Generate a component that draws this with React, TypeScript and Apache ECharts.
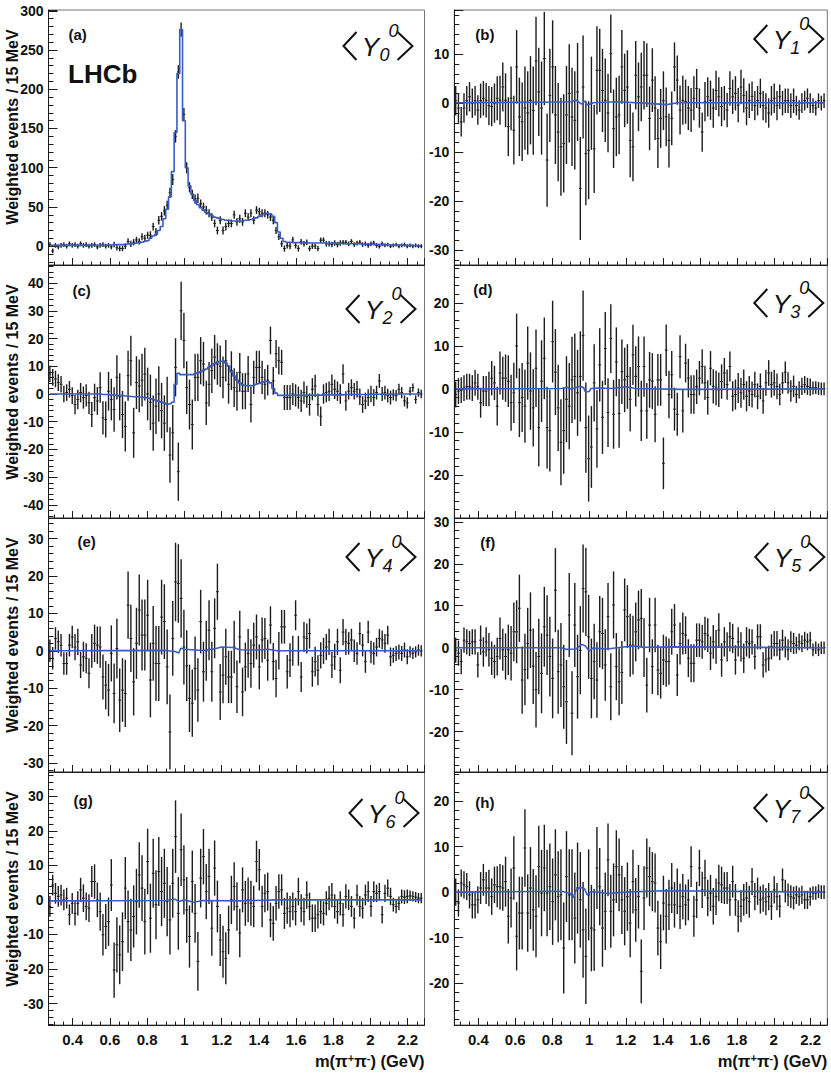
import React, { useEffect, useRef } from "react";
import * as echarts from "echarts";

// ---------- binning (15 MeV bins) ----------
const NBINS = 134;
const massCenters: number[] = Array.from({ length: NBINS }, (_, i) => Math.round((0.2775 + 0.015 * i) * 10000) / 10000);
const massMin = 0.27;
const massMax = 2.29;

// ---------- panel labels ----------
const panelLetters = ["(a)", "(b)", "(c)", "(d)", "(e)", "(f)", "(g)", "(h)"];
const momentL = ["0", "1", "2", "3", "4", "5", "6", "7"];
const yAxisTitle = "Weighted events / 15 MeV";

// ---------- y ranges ----------
const yMinValues = [-24, -33, -44.7, -30, -32.4, -29.6, -36.2, -29.2];
const yMaxValues = [301, 19, 46.5, 28.8, 35.5, 30.9, 37, 26.4];
const ySplitNumbers = [6, 5, 9, 5, 5, 5, 7, 5];

// ---------- data: <Y_0^0> ----------
const valsA = [
  2, -6, 1, -1, 1, 2, 0, 3, 1, 2,
  0, 3, 1, 2, 0, 1, 2, -1, 1, 2,
  0, 1, -1, 2, -2, -3, -3, 0, 6, 3,
  5, 8, 6, 12, 10, 14, 14, 25, 18, 33,
  38, 45, 52, 68, 85, 140, 222, 276, 168, 100,
  75, 66, 60, 61, 54, 50, 46, 42, 37, 29,
  20, 33, 20, 25, 29, 29, 40, 31, 35, 31,
  42, 37, 42, 33, 46, 44, 42, 42, 40, 37,
  33, 20, 12, 3, -3, 1, 0, 8, 1, -3,
  5.5, 3, 5, -3, 0, 0, -3, 7.7, 7.7, 3,
  3, 2, 4, 2, 4, 5, 5, 3, 6, 2,
  4, 5, 2, 3, 1, 3, 4, 1, 0, 3,
  1, 2, 0, 1, 2, 0, 1, 2, 0, 1,
  0, 1, 0, 0,
];
const errA = [
  3, 3, 3, 3, 3, 3, 3, 3, 3, 3,
  3, 3, 3, 3, 3, 3, 3, 3, 3, 3,
  3, 3, 3, 3.5, 3.5, 3.5, 3.5, 3.5, 4, 4,
  4, 4, 4, 4.5, 4.5, 4.5, 5, 5, 5, 5.5,
  5.5, 6, 6, 6.5, 7, 8, 8.5, 9, 8, 7,
  6.5, 6, 6, 6, 5.5, 5.5, 5.5, 5, 5, 5,
  5, 5, 5, 5, 5, 5, 5, 5, 5, 5,
  5, 5, 5, 5, 5, 5, 5, 5, 5, 5,
  5, 4.5, 4, 4, 4, 4, 4, 4, 4, 4,
  3.5, 3.5, 3.5, 3.5, 3.5, 3.5, 3.5, 3.5, 3.5, 3.5,
  3.5, 3.5, 3.5, 3.5, 3.5, 3, 3, 3, 3, 3,
  3, 3, 3, 3, 3, 3, 3, 3, 3, 3,
  2.5, 2.5, 2.5, 2.5, 2.5, 2.5, 2.5, 2.5, 2.5, 2.5,
  2.5, 2.5, 2.5, 2.5,
];
const fitA = [
  1, 1, 1, 1, 1, 1, 1, 1, 1, 1,
  1, 1, 1, 1, 1, 1, 1, 1, 1, 1.5,
  1.5, 1.5, 1.5, 2, 2, 2, 2, 2.5, 3, 3,
  3.5, 4, 4.5, 5, 6, 7, 10, 13, 15, 20,
  25, 35, 47, 63, 95, 145, 220, 276, 160, 100,
  77, 66, 58, 53, 49, 46, 43, 41, 39, 37,
  36, 35, 34, 33, 33, 32, 32, 32, 32, 32,
  33, 33, 34, 35, 36, 38, 40, 41, 42, 41,
  38, 30, 18, 10, 6, 5, 5, 4.5, 4.5, 4.5,
  4, 4, 4, 4, 4, 4, 4, 4, 4, 3.5,
  3.5, 3.5, 3.5, 3.5, 3.5, 3, 3, 3, 3, 3,
  3, 3, 2.5, 2.5, 2.5, 2.5, 2.5, 2, 2, 2,
  2, 2, 1.5, 1.5, 1.5, 1.5, 1, 1, 1, 1,
  0.5, 0.5, 0.5, 0.5,
];

// ---------- data: higher moments ----------
const valsB = [
  0.5, -1, -3.8, -1, 0.5, 1.3, 0, 0.5, -1.4, 0.5,
  1, 0.6, -0.5, -0.7, 0, 1, 0.6, 3.3, 0.6, -4.8,
  1, -5.5, 7.4, -2.8, -3.8, -1, -2, 0.6, -1.5, 8.6,
  2.3, -1, 9.1, -11.6, 1.6, 7.4, -2.4, -5.9, -8.9, -8.2,
  -2.4, 2, -2.8, -3.5, 2.3, -17.4, 3.3, -10.3, -9.6, 0,
  -9.3, 6.7, 6.7, 2.6, 0.6, -2, 10.1, -5.2, -2.8, -2.4,
  7.4, 2.6, 3.3, -7.6, -8.9, 5.7, 1.3, 3.3, 5.7, 5.7,
  -3.1, 4.7, -1, -7.2, -3.1, 0.5, -2.8, -7.6, -3.1, 7.4,
  4.7, -1.4, 0.6, 0.3, -1, -1.4, 1, 3, -1, -5.9,
  0.3, 1.3, 0.6, -1, 2.6, 1.3, -0.7, 0, -1.4, 3,
  1.3, 2, -0.4, 3.3, 1.6, -1, 0.5, 1.4, -0.5, 0.5,
  2, -0.5, -1, -2, 0.5, 1, -0.5, 1.3, 0, 0.5,
  0.5, -0.5, 0.5, -0.5, -1.4, 0, 0.5, 1, 0, -0.5,
  -1, 0.5, 0, 0.5,
];
const valsC = [
  7.2, 6, 5.4, 4.1, 3.5, 0, 0.5, 1.7, -0.6, -3.8,
  -2, 0.5, -1.3, -0.5, -3.2, -7.4, -1.3, -2.5, 2.3, -8.6,
  -9.2, 1, -2, -5.6, 6, -1, -7.4, -11.7, 6.6, 12,
  -14, 4.1, 2.9, 5, 7.2, 0, -3, -10.5, -4.4, 0,
  -6, -10.5, -3.8, -22, -14, 9.6, -28, 30, 19.3, 2.3,
  -3.8, -11, 6, 6, 12, 10.8, -3.2, 3.5, 8.4, 13.3,
  10.8, 10, 6, 12, 3.5, 8.4, 2.3, 1, 7.8, 1,
  1, 7.2, -3.8, 6, 9.6, 9.6, 6, 3.5, 5, 19.3,
  4.7, 14.5, 12, 11.4, -1.3, -1.3, -1.3, 0, -0.5, -1.3,
  -2.5, 0.5, -1, -3.8, 1.7, 2.9, -3.8, -8, 0, 0.5,
  1, 3.5, 1.7, 1, 0, 7.2, -2.5, 1, 2.3, 1,
  1.7, -1, -3.8, -2.5, -1.3, 0, -1.3, 0.5, 4.7, 0,
  0.5, -0.6, -1.3, -0.3, -0.6, 1.7, 0.5, -2.5, -3.2, 1,
  2.3, -2, 0.5, 0,
];
const fitC = [
  0, 0, 0, 0, 0, 0, 0, 0, 0, 0,
  0, 0, 0, 0, 0, 0, 0, 0, 0, -0.2,
  -0.2, -0.3, -0.3, -0.4, -0.5, -0.5, -0.6, -0.7, -0.8, -0.9,
  -1, -1, -1.1, -1.2, -1.3, -1.5, -1.7, -2, -2.3, -2.6,
  -3, -3.3, -3.6, -3.5, -3, 3.5, 7.5, 7, 7, 7,
  7, 7, 7.3, 7.6, 8, 8.5, 9, 9.7, 10.3, 11,
  11.5, 11.8, 11.8, 11.2, 10, 8, 6.5, 5, 4, 3.3,
  3, 3, 3, 3.2, 3.5, 3.8, 4.2, 4.5, 4.5, 4,
  2, 0.3, -0.5, -0.5, -0.5, -0.5, -0.5, -0.5, -0.5, -0.5,
  -0.5, -0.5, -0.4, -0.4, -0.4, -0.4, -0.4, -0.4, -0.3, -0.3,
  -0.3, -0.3, -0.3, -0.3, -0.3, -0.3, -0.2, -0.2, -0.2, -0.2,
  -0.2, -0.2, -0.2, -0.2, -0.1, -0.1, -0.1, -0.1, -0.1, -0.1,
  -0.1, -0.1, 0, 0, 0, 0, 0, 0, 0, 0,
  0, 0, 0, 0,
];
const valsD = [
  -1.3, -0.5, -0.3, 0.2, 0.5, 0.5, 0.2, 1.4, 0.5, -3.2,
  -0.5, -0.5, 0, 2.5, 1.4, -4, 3.7, 2.5, 2.5, 1.8,
  -3.2, -0.9, 10, -3.2, -2, -4, 6, -0.5, -4.4, 4.8,
  -9, 1.8, 7.1, -9, -9.7, 11, 3.9, -4.4, -12.4, -9.7,
  -2.4, -4, 2.1, 2.9, -0.9, 2.9, 12.4, -9, -16.2, -13.5,
  1.4, -9.3, 5.6, -6.6, 9.4, -5.5, 11.7, -5.9, 6.3, -5.7,
  4, 2.1, 2.9, -2.4, 7.9, 2.9, 5.2, -5.1, 5.2, -5.1,
  2.1, 1.8, -5.9, 2.1, 2.1, -17.3, 9, -1.3, 3.3, -4.7,
  -5.9, 7.5, -5.1, 6, 2.5, -1.3, -1.3, 0.5, 2.5, 5.2,
  1.4, -2, 4.8, 0.6, 0.2, -0.2, 1.7, 3.7, 1, 5.2,
  -1.7, -1.3, 0.2, -0.9, 1, -1.7, -0.5, -1.3, 1, -1.7,
  0.6, -2.8, 1.4, 3.7, 1, 1.4, 0.6, -1.3, 1.4, 3.9,
  1.4, -0.5, 0.6, -1.3, -0.2, 0.6, 1, 0.6, 0.4, 0.2,
  0.3, 0.1, 0, 0,
];
const valsE = [
  0, -2, 3.3, 2.4, 1.5, -3.4, -3.4, 1.5, 3.7, 1,
  2.4, -3.8, -1.6, -2, -6, 0, 2, 1.5, 1, -7,
  -9.2, -10.5, -0.7, -11.4, 0.6, -13.2, -10.5, -11.4, 12.2, 3.3,
  -8.3, 2, 10.9, 4.2, 4.2, 9.5, -7.8, 2, -3.4, -3.4,
  9, 7.8, -4.3, -21.7, 3.3, 18.4, 18, 14, 1, -4,
  -12.7, -14, -4.7, -10.5, 7.8, -5.6, 0, 5.5, -5.6, 6,
  15.8, -11, -6.5, -1.6, -7, -7, 1, -9.6, 3.7, -11,
  -4.3, -0.7, -3.4, 1.5, 3.7, -4.3, 2.9, 3.3, -2.5, 6.9,
  -2.9, -7.4, 0, 6.4, 6.4, -5.6, -2.5, 0, 9.5, 0,
  -7, 3.7, 3.3, 4.6, -5.6, -2.9, -5.2, -1.2, 0, 1,
  2.4, -3.8, -1.6, 2.4, -5.2, 5, 2.4, 2, 2.9, 0,
  -0.7, 4.6, 1.5, -2.9, 5, -0.3, -0.7, 1, 3.3, 2.9,
  2, 4.2, -1.6, -1.2, -0.7, -0.3, -0.7, 0.2, -1.6, -0.3,
  -0.7, -0.3, 0.2, 0,
];
const valsF = [
  -0.6, -1.3, -3.3, 1.8, 1.4, 1, 1.4, 1.4, -4.1, 1.8,
  -1, 1.4, -0.5, -2.5, -3.3, -2.1, 2.2, -0.5, -2.1, -0.5,
  -1.3, 3.8, 3.8, 9.4, -7.7, -5.2, 1, 4.2, -4.4, -10,
  -2.1, -6.1, 5, 3, -2.1, -7.3, 13.7, -5.7, -4.1, -9.3,
  -12.9, 7.8, -15.6, 5.4, -6.9, -0.6, 14.1, 13.3, 2.6, -7.3,
  -3.3, -7.7, 3.8, 3.4, -4.1, 7.4, -9.3, 10.2, -4.5, -8.1,
  -5.9, 9, 7.4, 0.6, 0.6, 3.8, 6.6, 7, 0, -8.9,
  5.4, -4.5, 5.4, -5.3, -6.1, -2.9, -3.3, -3.3, 3.8, 5.4,
  -6.5, 1, 3.4, 3, -2.5, -3.7, -3.7, 1.8, 1.8, 1.4,
  3.4, 3, -1.3, 1.4, 0.2, 4.2, -2.9, 1.4, 0.2, 2.6,
  2.2, -2.9, 1.4, 0.2, -2.5, 1.4, 1, 1.4, -2.1, 2.6,
  2.6, -4.1, -2.9, -2.5, 0.2, 1, 1, -0.5, 1.8, 0.2,
  -0.5, 1.4, 1, 0.6, 1.4, 1, 1.8, 1.4, 1.8, -0.5,
  0, -0.5, 0, 0,
];
const valsG = [
  -1.9, 4.3, 1.9, 1, 1.4, 0, 0.5, -4.3, -1, -3.9,
  -1, 2.9, 0.5, -1.9, -2.4, 5.3, 5.3, 0, -3.4, -10.1,
  -7.7, -6.3, 4.3, -20.3, -13, -15.9, -12.1, 3.4, -6.3, -8.7,
  -4.8, -0.5, 7.2, 3.4, -6.3, 11.1, -5.3, 7.7, -1.4, 8.2,
  2.4, 4.8, -0.5, -5.8, 4.8, 18.3, -3.9, 14.5, 5.8, -2.9,
  -10.6, 5.3, -3.9, -17.8, 6.3, 12.5, 2.4, 6.8, -8.2, 9.2,
  -1.9, -11.6, -15, -16.9, -8.7, 0, 3.9, -1.9, -9.6, 2.9,
  -1, 0, -1, -1.9, 11.1, 8.7, -1.9, 1.9, 2.4, -5.8,
  -6.8, -1, 2.4, 2.9, -3.9, -2.4, -3.4, -1.9, -3.4, 2.4,
  -2.4, -3.4, 1.4, -1.9, -5.3, -5.3, -4.3, -3.4, -3.9, -1,
  0.5, 1.4, -1.9, -3.4, -1, -4.3, 1, 0, -1.9, -5.3,
  1.4, -1.9, -2.4, 1.4, 2.4, -1.9, 2.4, 1.9, 2.4, -4.3,
  1.9, 3.4, 1, -1.4, -1.9, -1, 1, 0.8, 1, 1.2,
  1, 0.8, 0.5, 0.5,
];
const valsH = [
  0, -2.4, 2, 1.6, 1.2, -0.6, -2.8, -2.8, -1.7, 0.9,
  2.7, 0.9, 0.9, -1, 1.6, 1.2, 1.2, 0.9, 2.3, -5.3,
  -1.3, 5.3, -9.7, -4.6, -4.6, 9.7, -4.6, 0.9, -3.9, -5.3,
  5.6, -0.2, 5.3, -0.2, 1.2, -2.1, 3.8, -1, -0.6, -12.3,
  3.4, -0.6, -0.6, -5.7, 0.9, -1.7, -8.3, -14.1, -0.6, -7.9,
  -8.3, 5.3, 1.2, -7.9, -4.2, 7.1, -4.2, -1.7, 5.6, 3.8,
  -1.7, -4.2, -1, -6.8, 2.3, -3.9, -1, -17.4, -1.3, 5.3,
  3.4, 2.3, 2, -7.9, -10.9, -2.4, -5.3, -2.8, 0.9, -2.8,
  0.2, -3.1, -1, -2.8, -1.7, 5.6, -5.3, -1.7, 5.3, 0.5,
  3.1, -1.3, -0.2, -3.1, -1, 2, 1.6, 0.9, 0.9, -1.7,
  2.3, -1.7, -5.3, -3.1, -1.7, -1.3, -2.1, 2.3, -1, 0.2,
  -1.7, -1.3, -2.1, -1, -3.1, 0.5, -1, -3.1, 2.7, 0.2,
  -0.6, -1, -1.3, -0.6, -1, -0.6, -1.7, -1.7, -1, -0.2,
  -0.2, 0.2, 0, 0,
];
// statistical uncertainties of the moments (similar in panels b-h)
const errMoments = [
  3, 3, 3, 3, 3, 3, 3, 3, 3, 3.5,
  3.5, 3.5, 4, 4, 4, 4.5, 5, 5, 5.5, 6,
  6.5, 7, 7.5, 8, 8, 8.5, 8.5, 9, 9, 9,
  9, 9.5, 9.5, 9.5, 9.5, 9.5, 10, 10, 10, 10,
  10, 10, 10, 10, 10, 10.5, 10.5, 10.5, 10, 9.5,
  9, 9, 8.5, 8.5, 8.5, 8, 8, 8, 8, 8,
  7.5, 7.5, 7.5, 7.5, 7, 7, 7, 7, 7, 6.5,
  6.5, 6.5, 6.5, 6, 6, 6, 6, 5.5, 5.5, 5,
  5, 5, 5, 4.5, 4.5, 4.5, 4.5, 4, 4, 4,
  4, 4, 4, 4, 4, 4, 4, 3.5, 3.5, 3.5,
  3.5, 3.5, 3.5, 3.5, 3.5, 3.5, 3.5, 3, 3, 3,
  3, 3, 3, 3, 3, 3, 3, 2.5, 2.5, 2.5,
  2.5, 2.5, 2.5, 2, 2, 2, 2, 2, 2, 1.5,
  1.5, 1.5, 1.5, 1.5,
];
// fit curves of the small moments, [mass, value]
const fitB = [[0.2775, 0.1], [0.75, 0.2], [0.9, 0.3], [0.93, 0.6], [0.96, -0.2], [0.98, 0.5], [0.99, -0.4], [1.02, 0.1], [1.15, 0.3], [1.3, 0], [1.42, -0.3], [1.48, 0.1], [2.2725, 0.1]];
const fitD = [[0.2775, 0], [0.85, 0.1], [0.88, 0.4], [0.9, 0], [0.92, 0.2], [0.95, 0.6], [0.97, 0.3], [0.98, -0.7], [1.0, -0.6], [1.01, 0.1], [1.05, 0.2], [1.13, 0.1], [1.2, 0.5], [1.25, 0.1], [1.5, -0.1], [2.2725, 0]];
const fitE = [[0.2775, 0], [0.9, 0.1], [0.95, -0.2], [0.97, -0.6], [0.98, 0.7], [1.0, 0.4], [1.1, 0.1], [1.17, 0.6], [1.2, 1.0], [1.26, 0.9], [1.3, 0.3], [1.4, 0.2], [1.45, 0.4], [1.5, 0], [2.2725, 0]];
const fitF = [[0.2775, 0], [0.85, 0], [0.88, -0.4], [0.93, -0.3], [0.96, 0.8], [0.98, 0.4], [1.0, -0.8], [1.02, -0.1], [1.1, -0.3], [1.15, 0], [1.24, 0.4], [1.3, 0.1], [1.45, 0.2], [2.2725, 0]];
const fitG = [[0.2775, -0.3], [0.9, -0.2], [0.95, 0.2], [0.97, -0.5], [1.0, 0], [1.05, -0.7], [1.1, -0.2], [1.3, -0.3], [1.5, 0], [2.2725, 0]];
const fitH = [[0.2775, 0], [0.85, 0.2], [0.9, -0.3], [0.915, -1.2], [0.93, 0.5], [0.955, 1.0], [0.975, 0.8], [0.99, -0.6], [1.01, 0.1], [1.05, 0], [1.1, -0.3], [1.2, 0], [1.4, 0.3], [2.2725, 0]];

const panelValues = [valsA, valsB, valsC, valsD, valsE, valsF, valsG, valsH];
const panelErrors = [errA, errMoments, errMoments, errMoments, errMoments, errMoments, errMoments, errMoments];

// ---------- layout ----------
const colLeft = [48.5, 454.3];
const colWidth = [376, 373];
const rowTop = [10, 265, 518, 772];
const rowHeight = [255, 253, 254, 253];
const letterDx = [20, 21, 24, 19, 29, 26, 25, 21];
const letterDy = [24, 24.5, 25, 24, 23, 24, 28, 30];
const tipDx = [-12, -4, -9, -4, -9, -3, -6, -4];
const tipDy = [36, 29, 44, 38, 39, 39, 41, 36];

const FONT = '"Liberation Sans", Arial, Helvetica, sans-serif';
const BLUE = "#3b5cc2";
const INK = "#1c1c1c";

function buildOption() {
  const grid: any[] = [];
  const xAxis: any[] = [];
  const yAxis: any[] = [];
  const series: any[] = [];
  const graphic: any[] = [];

  for (let p = 0; p < 8; p++) {
    const col = p % 2;
    const row = Math.floor(p / 2);
    const left = colLeft[col];
    const top = rowTop[row];
    const width = colWidth[col];
    const height = rowHeight[row];
    const right = left + width;
    grid.push({ left, top, width, height, show: true, borderColor: "#777", borderWidth: 1, backgroundColor: "transparent" });
    xAxis.push({
      gridIndex: p, type: "value", min: massMin, max: massMax, splitNumber: 10,
      axisLine: { show: true, onZero: false, lineStyle: { color: INK, width: 1 } },
      axisTick: { show: true, inside: true, length: 7, lineStyle: { color: INK } },
      minorTick: { show: true, splitNumber: 4, length: 3.5, lineStyle: { color: INK } },
      splitLine: { show: false },
      axisLabel: {
        show: row === 3, fontSize: 15, fontWeight: "bold", color: "#111", fontFamily: FONT, margin: 7,
        showMinLabel: false, showMaxLabel: false,
        formatter: (v: number) => String(Math.round(v * 10) / 10),
      },
    });
    yAxis.push({
      gridIndex: p, type: "value", min: yMinValues[p], max: yMaxValues[p], splitNumber: ySplitNumbers[p],
      axisLine: { show: true, onZero: false, lineStyle: { color: INK, width: 1 } },
      axisTick: { show: true, inside: true, length: 9, lineStyle: { color: INK } },
      minorTick: { show: true, splitNumber: 5, length: 5, lineStyle: { color: INK } },
      splitLine: { show: false },
      axisLabel: { fontSize: 14, fontWeight: "bold", color: "#111", fontFamily: FONT, margin: 5, showMinLabel: false, showMaxLabel: false },
    });

    const vals = panelValues[p];
    const errs = panelErrors[p];
    series.push({
      type: "custom", xAxisIndex: p, yAxisIndex: p, clip: true, z: 2, silent: true,
      data: massCenters.map((m, i) => [m, vals[i], errs[i]]),
      encode: { x: 0, y: 1 },
      renderItem: (_params: any, api: any) => {
        const m = api.value(0);
        const v = api.value(1);
        const e = api.value(2);
        const hi = api.coord([m, v + e]);
        const lo = api.coord([m, v - e]);
        const l = api.coord([m - 0.0075, v]);
        const r = api.coord([m + 0.0075, v]);
        return {
          type: "group",
          children: [
            { type: "line", shape: { x1: hi[0], y1: hi[1], x2: lo[0], y2: lo[1] }, style: { stroke: INK, lineWidth: 1.4 } },
            { type: "line", shape: { x1: l[0], y1: l[1], x2: r[0], y2: r[1] }, style: { stroke: INK, lineWidth: 1 } },
          ],
        };
      },
    });

    let fitData: any[];
    let step: any = false;
    if (p === 0) { fitData = massCenters.map((m, i) => [m, fitA[i]]); step = "middle"; }
    else if (p === 2) { fitData = massCenters.map((m, i) => [m, fitC[i]]); step = "middle"; }
    else fitData = [fitB, fitB, fitB, fitD, fitE, fitF, fitG, fitH][p];
    series.push({
      type: "line", xAxisIndex: p, yAxisIndex: p, data: fitData, step, symbol: "none", showSymbol: false,
      lineStyle: { color: BLUE, width: 1.6 }, z: 3, silent: true, clip: true,
    });

    // panel letter
    graphic.push({
      type: "text", x: left + letterDx[p], y: top + letterDy[p],
      style: { text: panelLetters[p], fontSize: 15, fontWeight: "bold", fontFamily: FONT, fill: "#111", textAlign: "left", textVerticalAlign: "middle" },
    });
    // <Y_L^0>
    const tx = right + tipDx[p];
    const ty = top + tipDy[p];
    graphic.push({ type: "polyline", shape: { points: [[tx - 56, ty - 14], [tx - 69, ty], [tx - 56, ty + 14]] }, style: { stroke: "#111", lineWidth: 2, fill: null } });
    graphic.push({ type: "polyline", shape: { points: [[tx - 15, ty - 14], [tx, ty], [tx - 15, ty + 14]] }, style: { stroke: "#111", lineWidth: 2, fill: null } });
    graphic.push({ type: "text", x: tx - 42, y: ty + 1, style: { text: "Y", fontSize: 26, fontStyle: "italic", fontFamily: FONT, fill: "#111", textAlign: "center", textVerticalAlign: "middle" } });
    graphic.push({ type: "text", x: tx - 19, y: ty - 15, style: { text: "0", fontSize: 18, fontStyle: "italic", fontFamily: FONT, fill: "#111", textAlign: "center", textVerticalAlign: "middle" } });
    graphic.push({ type: "text", x: tx - 28, y: ty + 9, style: { text: momentL[p], fontSize: 18, fontStyle: "italic", fontFamily: FONT, fill: "#111", textAlign: "center", textVerticalAlign: "middle" } });

    if (col === 0) {
      graphic.push({
        type: "text", x: 12, y: top + 117, rotation: Math.PI / 2,
        style: { text: yAxisTitle, fontSize: 16, fontWeight: "bold", fontFamily: FONT, fill: "#111", textAlign: "center", textVerticalAlign: "middle" },
      });
    }
    if (row === 3) {
      graphic.push({
        type: "text", x: right, y: 1061,
        style: {
          text: "m(π{sup|+}π{sup|-}) (GeV)", fontSize: 16.5, fontWeight: "bold", fontFamily: FONT, fill: "#111", textAlign: "right", textVerticalAlign: "middle",
          rich: { sup: { fontSize: 11, fontWeight: "bold", fontFamily: FONT, fill: "#111", verticalAlign: "top" } },
        },
      });
    }
  }
  graphic.push({
    type: "text", x: 68, y: 74,
    style: { text: "LHCb", fontSize: 26, fontWeight: "bold", fontFamily: FONT, fill: "#111", textAlign: "left", textVerticalAlign: "middle" },
  });

  return { animation: false, backgroundColor: "#fff", grid, xAxis, yAxis, series, graphic };
}

export default function App() {
  const ref = useRef<HTMLDivElement>(null);
  useEffect(() => {
    if (!ref.current) return;
    const chart = echarts.init(ref.current, undefined, { renderer: "svg" });
    chart.setOption(buildOption() as any);
    return () => chart.dispose();
  }, []);
  return <div ref={ref} style={{ position: "absolute", left: 0, top: 0, width: 831, height: 1074, background: "#fff" }} />;
}
